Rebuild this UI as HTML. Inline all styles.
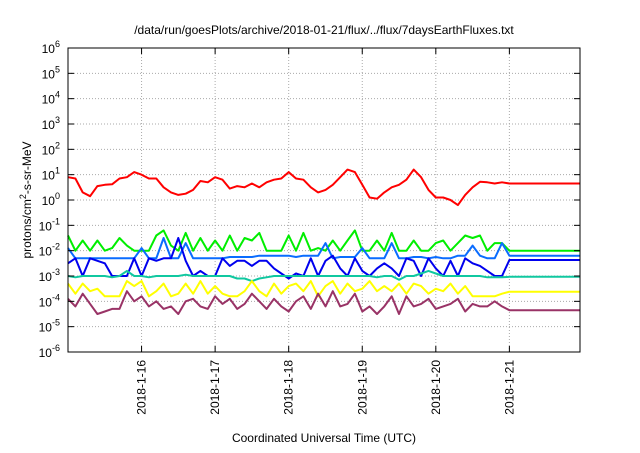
<!DOCTYPE html>
<html><head><meta charset="utf-8"><style>
body{margin:0;background:#fff;width:640px;height:448px;overflow:hidden}
svg text{font-family:"Liberation Sans",sans-serif;fill:#000}
</style></head><body>
<svg id="chart" width="640" height="448" viewBox="0 0 640 448" xmlns="http://www.w3.org/2000/svg">
<text x="324" y="34" font-size="12" text-anchor="middle">/data/run/goesPlots/archive/2018-01-21/flux/../flux/7daysEarthFluxes.txt</text>
<text x="324" y="442" font-size="12" text-anchor="middle">Coordinated Universal Time (UTC)</text>
<text transform="translate(31,200) rotate(-90)" font-size="12" text-anchor="middle">protons/cm<tspan dy="-5" font-size="9">2</tspan><tspan dy="5">-s-sr-MeV</tspan></text>
<g id="grid"></g><g id="series"></g><g id="axes"></g>
</svg>
<script>
const dayLabels=["2018-1-16","2018-1-17","2018-1-18","2018-1-19","2018-1-20","2018-1-21"];
const yExponents=[-6,-5,-4,-3,-2,-1,0,1,2,3,4,5,6];
const seriesNames=["red","green","lightblue","blue","teal","yellow","purple"];
const seriesColors=["#ff0000","#00ee00","#0a6cff","#0000ee","#10c8a0","#ffff00","#993366"];
// log10 values sampled every 0.1 day from day 0 (2018-1-15 00:00) to day 6
const red=[0.9,0.85,0.3,0.15,0.55,0.6,0.62,0.85,0.9,1.1,1.0,0.85,0.85,0.5,0.3,0.2,0.25,0.4,0.75,0.7,0.9,0.8,0.45,0.55,0.5,0.65,0.5,0.7,0.8,0.85,1.1,0.85,0.8,0.5,0.3,0.4,0.6,0.9,1.2,1.1,0.6,0.1,0.05,0.3,0.5,0.6,0.8,1.2,0.9,0.4,0.1,0.1,0.0,-0.2,0.2,0.5,0.72,0.7,0.65,0.7,0.65];
const green=[-1.4,-2.0,-1.6,-2.0,-1.6,-2.0,-1.9,-1.5,-1.8,-2.0,-2.0,-2.0,-1.4,-1.2,-1.8,-2.0,-1.3,-2.0,-1.5,-2.0,-1.6,-2.0,-1.4,-2.0,-1.5,-1.6,-1.3,-2.0,-2.0,-2.0,-1.4,-2.0,-1.3,-2.0,-1.9,-2.0,-1.6,-2.0,-1.6,-1.2,-2.0,-2.0,-1.6,-2.0,-1.3,-2.0,-2.0,-1.6,-2.0,-2.0,-1.7,-1.6,-2.0,-1.7,-1.4,-1.5,-1.4,-2.0,-1.7,-1.7,-2.0];
const lightblue=[-1.9,-2.3,-2.3,-2.3,-2.3,-2.3,-2.3,-2.3,-2.3,-2.3,-1.9,-2.3,-2.3,-1.5,-2.3,-2.3,-1.7,-2.3,-2.3,-2.3,-2.3,-2.3,-2.25,-2.25,-2.25,-2.25,-2.2,-2.2,-2.2,-2.2,-2.2,-2.25,-2.2,-2.2,-2.2,-1.7,-2.3,-2.25,-2.25,-2.25,-1.9,-2.3,-2.3,-2.3,-1.7,-2.3,-2.3,-2.25,-2.25,-2.3,-2.25,-2.3,-2.3,-2.2,-2.2,-1.8,-2.2,-2.3,-2.3,-1.7,-2.2];
const blue=[-2.5,-2.3,-3.0,-2.3,-2.4,-2.5,-3.0,-3.0,-3.0,-2.3,-3.0,-2.3,-2.4,-2.3,-2.3,-1.5,-2.4,-3.0,-2.8,-3.0,-3.0,-2.3,-2.6,-2.4,-2.4,-2.6,-2.4,-2.4,-2.7,-2.9,-3.1,-2.9,-3.0,-2.3,-3.0,-2.4,-2.2,-2.7,-3.0,-2.3,-2.8,-3.0,-2.7,-2.5,-2.7,-3.0,-2.3,-2.4,-3.0,-2.3,-2.7,-3.0,-2.4,-3.0,-2.3,-2.5,-2.6,-2.8,-3.0,-3.0,-2.37];
const teal=[-3.0,-3.05,-3.0,-3.0,-3.0,-3.0,-3.05,-3.0,-2.8,-3.0,-3.0,-3.05,-3.0,-3.0,-3.0,-3.0,-2.95,-3.0,-3.0,-3.0,-3.0,-3.0,-3.0,-3.1,-3.1,-3.2,-3.1,-3.05,-3.0,-3.0,-3.0,-3.0,-3.0,-3.0,-3.0,-3.0,-3.0,-3.0,-3.0,-3.0,-3.0,-3.0,-3.05,-3.0,-3.0,-3.15,-3.0,-3.0,-2.9,-2.8,-2.9,-3.0,-3.0,-3.0,-3.0,-3.0,-3.0,-3.05,-3.05,-3.05,-3.03];
const yellow=[-3.3,-3.7,-3.3,-3.6,-3.5,-3.8,-3.8,-3.8,-3.2,-3.4,-3.2,-3.8,-3.6,-3.3,-3.8,-3.7,-3.3,-3.7,-3.2,-3.7,-3.4,-3.7,-3.8,-3.8,-3.6,-3.2,-3.6,-3.8,-3.3,-3.7,-3.4,-3.3,-3.6,-3.2,-3.8,-3.4,-3.2,-3.7,-3.3,-3.6,-3.5,-3.2,-3.6,-3.4,-3.6,-3.3,-3.7,-3.3,-3.4,-3.7,-3.5,-3.6,-3.3,-3.7,-3.4,-3.8,-3.8,-3.8,-3.8,-3.7,-3.62];
const purple=[-3.9,-4.2,-3.7,-4.1,-4.5,-4.4,-4.3,-4.3,-3.6,-4.0,-3.8,-4.2,-4.0,-4.3,-4.2,-4.5,-4.0,-3.9,-4.2,-4.3,-3.8,-4.1,-3.9,-4.3,-4.1,-3.7,-4.0,-4.3,-3.9,-4.2,-4.4,-4.0,-3.8,-4.3,-3.7,-4.2,-3.6,-4.2,-4.1,-3.7,-4.4,-4.2,-4.5,-4.2,-3.8,-4.5,-3.8,-4.2,-4.1,-3.9,-4.3,-4.2,-4.1,-3.9,-4.4,-4.1,-4.2,-4.2,-4.0,-4.2,-4.35];
const allSeries=[red,green,lightblue,blue,teal,yellow,purple];
const X0=68,X1=580,Y0=48,Y1=352,D0=0,D1=6.96,L0=-6,L1=6;
const xs=d=>X0+(d-D0)/(D1-D0)*(X1-X0);
const ys=l=>Y1-(l-L0)/(L1-L0)*(Y1-Y0);
const NS="http://www.w3.org/2000/svg";
function mk(tag,attrs,parent){const e=document.createElementNS(NS,tag);for(const k in attrs)e.setAttribute(k,attrs[k]);document.getElementById(parent).appendChild(e);return e;}
yExponents.forEach((p,i)=>{
  const y=ys(p);
  if(i>0&&i<yExponents.length-1){const g=mk("line",{x1:X0,x2:X1,y1:y,y2:y,stroke:"#aaa","stroke-width":1,"stroke-dasharray":"1,2"},"grid");
  
  }
  const t1=mk("line",{x1:X0,x2:X0+6,y1:y,y2:y,stroke:"#000"},"axes");
  
  
  const t2=mk("line",{x1:X1-6,x2:X1,y1:y,y2:y,stroke:"#000"},"axes");
  
  
  const t=mk("text",{x:60,y:y+5,"font-size":12,"text-anchor":"end"},"axes");
  
  
  t.innerHTML='10<tspan dy="-6" font-size="9">'+p+'</tspan>';
});
dayLabels.forEach((lab,i)=>{
  const x=xs(i+1);
  const g=mk("line",{x1:x,x2:x,y1:Y0,y2:Y1,stroke:"#aaa","stroke-width":1,"stroke-dasharray":"1,2"},"grid");
  
  
  const t1=mk("line",{x1:x,x2:x,y1:Y1-6,y2:Y1,stroke:"#000"},"axes");
  
  
  const t2=mk("line",{x1:x,x2:x,y1:Y0,y2:Y0+6,stroke:"#000"},"axes");
  
  
  const t=mk("text",{transform:"translate("+(x+4)+",360) rotate(-90)","font-size":12,"text-anchor":"end"},"axes");
  
  
  t.textContent=lab;
});
allSeries.forEach((s,si)=>{
  let pts=s.map((v,i)=>xs(i*0.1).toFixed(1)+","+ys(v).toFixed(1));
  pts.push(xs(D1).toFixed(1)+","+ys(s[s.length-1]).toFixed(1));
  const p=mk("polyline",{points:pts.join(" "),fill:"none",stroke:seriesColors[si],"stroke-width":2,"stroke-linejoin":"round"},"series");
  
  
});
const fr=mk("rect",{x:X0,y:Y0,width:X1-X0,height:Y1-Y0,fill:"none",stroke:"#000","stroke-width":1},"axes");


</script>
</body></html>
